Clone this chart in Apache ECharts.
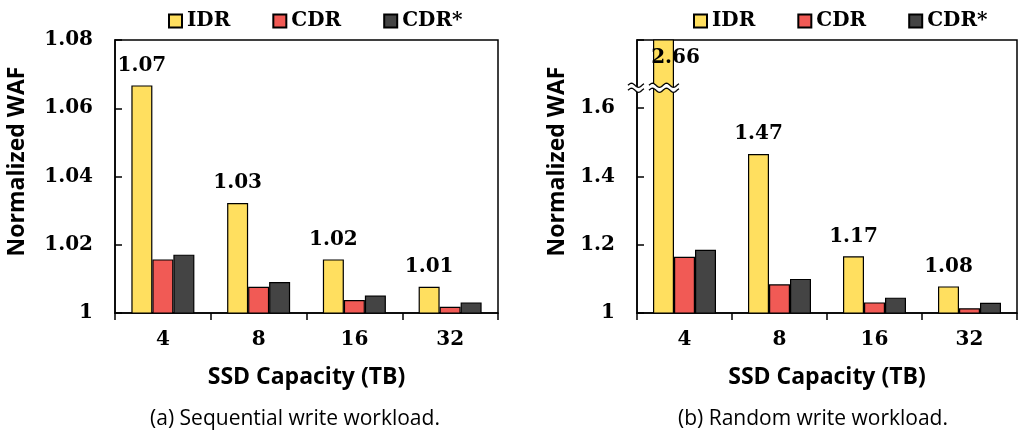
<!DOCTYPE html>
<html>
<head>
<meta charset="utf-8">
<script src="https://cdn.jsdelivr.net/npm/echarts@6/dist/echarts.min.js"></script>
<style>
  html, body { margin: 0; padding: 0; background: #fff; }
  #chart { width: 1028px; height: 437px; }
</style>
</head>
<body>
<div id="chart"></div>
<script>
// SSD capacities (TB) on the x axis
const categories = ['4', '8', '16', '32'];
const seriesNames = ['IDR', 'CDR', 'CDR*'];

// (a) sequential write workload, normalized WAF
const seqIDR = [1.0667, 1.0322, 1.0157, 1.0077];
const seqCDR = [1.0157, 1.0077, 1.0038, 1.0018];
const seqCDRStar = [1.0171, 1.0091, 1.0051, 1.0031];

// (b) random write workload, normalized WAF
const rndIDR = [2.66, 1.466, 1.166, 1.078];
const rndCDR = [1.165, 1.084, 1.031, 1.014];
const rndCDRStar = [1.185, 1.100, 1.045, 1.030];

// y-axis ranges
const seqAxis = { min: 1, max: 1.08, interval: 0.02 };
const rndAxis = { min: 1, max: 1.8, interval: 0.2 };
const rndBreakAt = 1.66;

const captions = ['(a) Sequential write workload.', '(b) Random write workload.'];

const colors = ['#FFDF5F', '#F15A55', '#444444'];
const serif = '"DejaVu Serif", serif';
const sans = '"Open Sans", sans-serif';

const chart = echarts.init(document.getElementById('chart'), null, { renderer: 'canvas' });

function xAxis(gridIndex) {
  return {
    type: 'category', gridIndex, data: categories,
    axisLine: { lineStyle: { color: '#000', width: 1.5 } },
    axisTick: { show: true, length: 7, lineStyle: { color: '#000', width: 1.5 } },
    axisLabel: { color: '#000', fontFamily: serif, fontWeight: 'bold', fontSize: 20, margin: 17 },
    name: 'SSD Capacity (TB)', nameLocation: 'middle', nameGap: 53,
    nameTextStyle: { color: '#000', fontFamily: sans, fontWeight: 'bold', fontSize: 23 }
  };
}

function yAxis(gridIndex, range, hideTop, nameGap) {
  return {
    type: 'value', gridIndex, min: range.min, max: range.max, interval: range.interval,
    splitLine: { show: false },
    axisLine: { show: true, lineStyle: { color: '#000', width: 1.5 } },
    axisTick: { show: true, inside: true, length: 7, lineStyle: { color: '#000', width: 1.5 } },
    axisLabel: {
      color: '#000', fontFamily: serif, fontWeight: 'bold', fontSize: 20, margin: 22,
      formatter: v => (hideTop && Math.abs(v - range.max) < 1e-9) ? '' : String(+v.toFixed(4))
    },
    name: 'Normalized WAF', nameLocation: 'middle', nameGap, nameRotate: 90,
    nameTextStyle: { color: '#000', fontFamily: sans, fontWeight: 'bold', fontSize: 23, padding: [0, 0, 0, 30] }
  };
}

function barSeries(name, data, idx, gridIndex, withLabel) {
  return {
    type: 'bar', name, data: data.slice(),
    xAxisIndex: gridIndex, yAxisIndex: gridIndex,
    barWidth: 21, barGap: '0%', clip: true,
    itemStyle: { color: colors[idx], borderColor: '#000', borderWidth: 1.2 },
    label: withLabel ? {
      show: true, position: 'top', distance: 10,
      color: '#000', fontFamily: serif, fontWeight: 'bold', fontSize: 20,
      formatter: p => p.value.toFixed(2)
    } : { show: false }
  };
}

const rndIDRData = rndIDR.map(v => v > rndAxis.max
  ? { value: v, label: { position: 'insideTop', distance: 8, offset: [12, 0] } }
  : v);

const legendBase = {
  data: seriesNames, top: 11, itemWidth: 13, itemHeight: 13, itemGap: 42, icon: 'rect', padding: 0,
  selectedMode: false,
  textStyle: { color: '#000', fontFamily: serif, fontWeight: 'bold', fontSize: 20 }
};

chart.setOption({
  animation: false,
  backgroundColor: '#fff',
  color: colors,
  legend: [
    Object.assign({}, legendBase, { left: 168 }),
    Object.assign({}, legendBase, { left: 693 })
  ],
  title: [
    { text: captions[0], left: 290, top: 404, textAlign: 'center',
      textStyle: { color: '#000', fontFamily: sans, fontWeight: 'normal', fontSize: 21 } },
    { text: captions[1], left: 808, top: 404, textAlign: 'center',
      textStyle: { color: '#000', fontFamily: sans, fontWeight: 'normal', fontSize: 21 } }
  ],
  grid: [
    { left: 115, top: 40, width: 383, height: 273, show: true, borderColor: '#000', borderWidth: 1.5, containLabel: false, outerBoundsMode: 'none' },
    { left: 637, top: 40, width: 380, height: 273, show: true, borderColor: '#000', borderWidth: 1.5, containLabel: false, outerBoundsMode: 'none' }
  ],
  xAxis: [xAxis(0), xAxis(1)],
  yAxis: [yAxis(0, seqAxis, false, 86), yAxis(1, rndAxis, true, 68)],
  series: [
    barSeries('IDR', seqIDR, 0, 0, true),
    barSeries('CDR', seqCDR, 1, 0, false),
    barSeries('CDR*', seqCDRStar, 2, 0, false),
    Object.assign(barSeries('IDR', rndIDR, 0, 1, true), { data: rndIDRData }),
    barSeries('CDR', rndCDR, 1, 1, false),
    barSeries('CDR*', rndCDRStar, 2, 1, false)
  ]
});

// Break marks on the random-workload y axis and on the bar that exceeds the axis maximum
function wave(x0, x1, yc, amp, period) {
  const pts = [];
  for (let x = x0; x <= x1 + 0.01; x += 0.5) {
    pts.push([x, yc - amp * Math.sin((x - x0) / period * 2 * Math.PI)]);
  }
  return pts;
}

function breakMark(x0, x1, yc) {
  const gap = 5, amp = 2, period = 14;
  const top = wave(x0, x1, yc - gap / 2, amp, period);
  const bottom = wave(x0, x1, yc + gap / 2, amp, period);
  const fillPts = top.concat(bottom.slice().reverse());
  return [
    { type: 'polygon', shape: { points: fillPts }, style: { fill: '#fff', stroke: null }, z: 100 },
    { type: 'polyline', shape: { points: top }, style: { stroke: '#000', lineWidth: 1.3, fill: null }, z: 101 },
    { type: 'polyline', shape: { points: bottom }, style: { stroke: '#000', lineWidth: 1.3, fill: null }, z: 101 }
  ];
}

const rndGridRect = chart.getModel().getComponent('grid', 1).coordinateSystem.getRect();
const yBreak = chart.convertToPixel({ yAxisIndex: 1 }, rndBreakAt);
const elements = breakMark(rndGridRect.x - 9, rndGridRect.x + 7, yBreak);
rndIDR.forEach((v, i) => {
  if (v > rndAxis.max) {
    const layout = chart.getModel().getSeriesByIndex(3).getData().getItemLayout(i);
    elements.push(...breakMark(layout.x - 4, layout.x + layout.width + 5, yBreak));
  }
});
chart.setOption({ graphic: { elements } });
</script>
</body>
</html>
